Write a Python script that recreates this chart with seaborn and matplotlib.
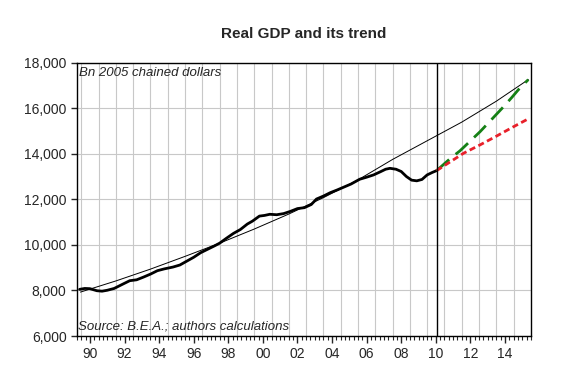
# Real GDP and its trend, EViews-style chart redone with seaborn
import pandas as pd
import matplotlib
matplotlib.use('Agg')
import matplotlib.pyplot as plt
import seaborn as sns
import numpy as np

# data (bn 2005 chained dollars)
gdp_year = [1989.9, 1990.2, 1990.5, 1990.9, 1991.2, 1991.5, 1991.9, 1992.4, 1992.8,
            1993.2, 1993.6, 1994.0, 1994.4, 1994.8, 1995.3, 1995.7, 1996.1, 1996.5,
            1996.9, 1997.3, 1997.7, 1998.0, 1998.4, 1998.8, 1999.2, 1999.6, 1999.9,
            2000.3, 2000.6, 2000.9, 2001.3, 2001.7, 2002.1, 2002.5, 2002.9, 2003.3,
            2003.6, 2004.0, 2004.4, 2004.8, 2005.2, 2005.6, 2006.1, 2006.5, 2006.9,
            2007.3, 2007.6, 2007.85, 2008.2, 2008.5, 2008.8, 2009.1, 2009.4, 2009.7,
            2010.0, 2010.3, 2010.55]
gdp = [8050, 8090, 8080, 7990, 7970, 8010, 8090, 8280, 8430,
       8470, 8590, 8720, 8870, 8950, 9030, 9120, 9290, 9460,
       9660, 9810, 9960, 10080, 10300, 10510, 10680, 10920, 11050,
       11270, 11300, 11350, 11330, 11380, 11480, 11600, 11640, 11780,
       12020, 12150, 12300, 12420, 12550, 12680, 12890, 12980, 13080,
       13220, 13330, 13370, 13330, 13230, 13010, 12850, 12820, 12880,
       13080, 13190, 13270]

trend_year = [1989.95, 1992, 1994, 1996, 1998, 2000, 2002, 2004, 2006, 2008,
              2010, 2012, 2014, 2015.85]
trend = [7930, 8420, 8940, 9500, 10080, 10700, 11360, 12080, 12860, 13760,
         14580, 15400, 16320, 17270]

fast_year = [2010.55, 2011.32, 2011.9, 2013.06, 2013.73, 2014.31, 2014.89, 2015.27, 2015.85]
fast = [13270, 13790, 14140, 14980, 15520, 15990, 16480, 16820, 17270]

slow_year = [2010.55, 2012.1, 2013.06, 2014.02, 2015.0, 2015.91]
slow = [13270, 14030, 14400, 14790, 15200, 15570]

data_end = 2010.55
label_years = list(range(1990, 2015, 2))

sns.set_style('white')
plt.rcParams['font.family'] = ['Liberation Sans', 'DejaVu Sans']

fig = plt.figure(figsize=(5.66, 3.84), dpi=100)
ax = fig.add_axes([0.136, 0.125, 0.802, 0.711])

# grid: every year vertically, every 2000 horizontally
for y in range(1990, 2016):
    ax.axvline(y, color='#c8c8c8', lw=0.8, zorder=0)
ax.set_yticks(range(6000, 18001, 2000))
ax.grid(axis='y', color='#c8c8c8', lw=0.8)
ax.set_axisbelow(True)

sns.lineplot(x=trend_year, y=trend, ax=ax, color='black', lw=0.7)
sns.lineplot(x=gdp_year, y=gdp, ax=ax, color='black', lw=2.0)
sns.lineplot(x=fast_year, y=fast, ax=ax, color='#158015', lw=2.0,
             linestyle=(0, (6, 3)))
sns.lineplot(x=slow_year, y=slow, ax=ax, color='#e8202a', lw=2.0,
             linestyle=(0, (2.2, 1.3)))
ax.axvline(data_end, color='black', lw=1.0)

ax.set_xlim(1989.75, 2016.0)
ax.set_ylim(6000, 18000)
ax.yaxis.set_major_formatter(matplotlib.ticker.StrMethodFormatter('{x:,.0f}'))
ax.set_xticks([y + 0.5 for y in label_years])
ax.set_xticklabels(['%02d' % (y % 100) for y in label_years])
ax.set_xticks(np.arange(1989.75, 2016.01, 0.25), minor=True)
ax.tick_params(axis='x', which='major', direction='out', length=5, width=1, labelsize=10, pad=3, bottom=True)
ax.tick_params(axis='x', which='minor', direction='out', length=3, width=0.8, bottom=True)
ax.tick_params(axis='y', direction='out', length=4, width=1, labelsize=10, left=True)
for s in ax.spines.values():
    s.set_color('black')
    s.set_linewidth(1.0)

ax.text(0.004, 0.985, 'Bn 2005 chained dollars', transform=ax.transAxes,
        fontsize=9.5, style='italic', va='top', ha='left')
ax.text(0.002, 0.012, 'Source: B.E.A.; authors calculations', transform=ax.transAxes,
        fontsize=9.5, style='italic', va='bottom', ha='left')
ax.set_xlabel('')
ax.set_ylabel('')
ax.set_title('Real GDP and its trend', fontsize=11, fontweight='bold', pad=18)

fig.savefig('out.png', dpi=100)
